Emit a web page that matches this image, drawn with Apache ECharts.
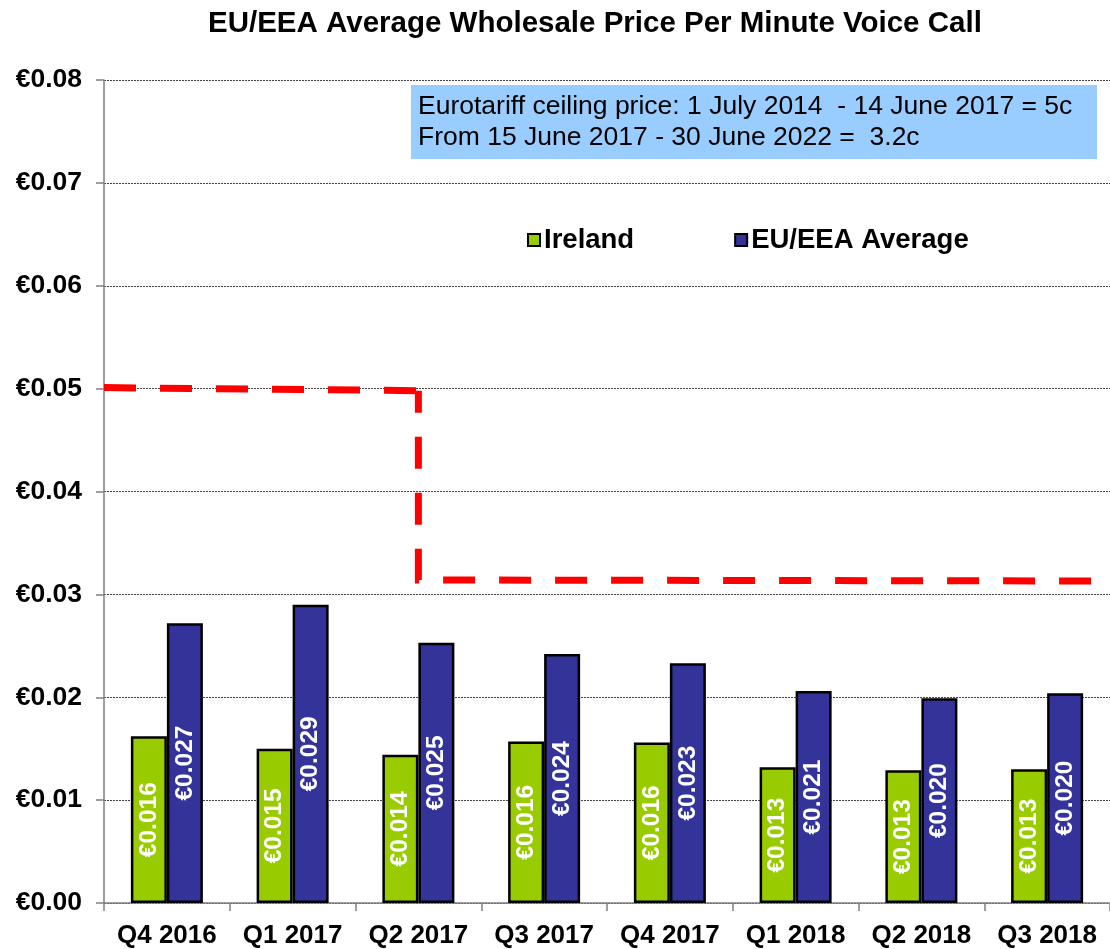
<!DOCTYPE html>
<html>
<head>
<meta charset="utf-8">
<script src="https://cdn.jsdelivr.net/npm/echarts@6/dist/echarts.min.js"></script>
<style>
  html, body { margin: 0; padding: 0; background: #fff; }
  #chart { width: 1110px; height: 949px; }
</style>
</head>
<body>
<div id="chart"></div>
<script>
  // data
  var quarters = ["Q4 2016", "Q1 2017", "Q2 2017", "Q3 2017", "Q4 2017", "Q1 2018", "Q2 2018", "Q3 2018"];
  var ireland = [0.0162, 0.0150, 0.0144, 0.0157, 0.0156, 0.0132, 0.0129, 0.0130];
  var euAverage = [0.0272, 0.0290, 0.0253, 0.0242, 0.0233, 0.0206, 0.0199, 0.0204];
  // ceiling price step line (x in category units, -0.5 = left edge)
  var ceilingX = [-0.5, 2, 2, 7.42];
  var ceilingY = [0.0501, 0.0498, 0.0314, 0.0313];
  var noteLines = [
    "Eurotariff ceiling price: 1 July 2014  - 14 June 2017 = 5c",
    "From 15 June 2017 - 30 June 2022 =  3.2c"
  ];

  var font = 'Arial, "Liberation Sans", sans-serif';

  var ceilingData = ceilingX.map(function (x, i) { return [x, ceilingY[i]]; });

  var barLabel = {
    show: true,
    position: "inside",
    rotate: 90,
    color: "#fff",
    fontFamily: font,
    fontWeight: "bold",
    fontSize: 24.5,
    formatter: function (p) { return "€" + p.value.toFixed(3); }
  };

  // dashes restart on each leg, like the original
  function ceilingLine(points, offset) {
    return {
      name: "ceiling",
      type: "line",
      xAxisIndex: 1,
      data: points,
      symbol: "none",
      silent: true,
      lineStyle: { color: "#FF0000", width: 7, type: [32, 24], dashOffset: offset, cap: "butt", join: "miter" },
      z: 5
    };
  }

  var chart = echarts.init(document.getElementById("chart"));

  chart.setOption({
    animation: false,
    backgroundColor: "#fff",
    title: {
      text: "EU/EEA Average Wholesale Price Per Minute Voice Call",
      left: 203,
      top: 4,
      textStyle: { fontFamily: font, fontWeight: "bold", fontSize: 29.5, color: "#000" }
    },
    legend: {
      data: ["Ireland", "EU/EEA Average"],
      left: 522,
      top: 221,
      itemWidth: 12,
      itemHeight: 12,
      itemGap: 100,
      icon: "rect",
      itemStyle: { borderColor: "#000", borderWidth: 2 },
      textStyle: { fontFamily: font, fontWeight: "bold", fontSize: 27.5, color: "#000", padding: [0, 0, 0, -1] }
    },
    grid: { left: 104, right: 0, top: 80, bottom: 46 },
    xAxis: [
      {
        type: "category",
        data: quarters,
        axisLine: { lineStyle: { color: "#808080", width: 1.5 } },
        axisTick: { show: true, length: 8, lineStyle: { color: "#808080", width: 1.5 } },
        axisLabel: { interval: 0, fontFamily: font, fontWeight: "bold", fontSize: 26, color: "#000", margin: 20 }
      },
      {
        type: "value",
        min: -0.5,
        max: 7.5,
        show: false
      }
    ],
    yAxis: {
      type: "value",
      min: 0,
      max: 0.08,
      interval: 0.01,
      axisLine: { show: true, onZero: false, lineStyle: { color: "#808080", width: 1.5 } },
      axisTick: { show: true, length: 8, lineStyle: { color: "#808080", width: 1.5 } },
      axisLabel: {
        fontFamily: font, fontWeight: "bold", fontSize: 26.5, color: "#000", margin: 22,
        formatter: function (v) { return "€" + v.toFixed(2); }
      },
      splitLine: { show: true, lineStyle: { color: "#444", type: [2, 1], width: 1 } }
    },
    graphic: [
      {
        type: "rect",
        left: 411,
        top: 85,
        shape: { width: 686, height: 74 },
        style: { fill: "#99CCFF" },
        z: 10
      },
      {
        type: "text",
        left: 418,
        top: 91,
        style: {
          text: noteLines.join("\n"),
          font: "26.5px " + font,
          fill: "#000",
          lineHeight: 31
        },
        z: 11
      }
    ],
    series: [
      {
        name: "Ireland",
        type: "bar",
        data: ireland,
        barWidth: 36,
        barGap: "0%",
        itemStyle: { color: "#99CC00", borderColor: "#000", borderWidth: 2.5 },
        label: barLabel
      },
      {
        name: "EU/EEA Average",
        type: "bar",
        data: euAverage,
        barWidth: 36,
        itemStyle: { color: "#333399", borderColor: "#000", borderWidth: 2.5 },
        label: barLabel
      },
      ceilingLine(ceilingData.slice(0, 2), 0),
      ceilingLine(ceilingData.slice(1), 10)
    ]
  });
</script>
</body>
</html>
